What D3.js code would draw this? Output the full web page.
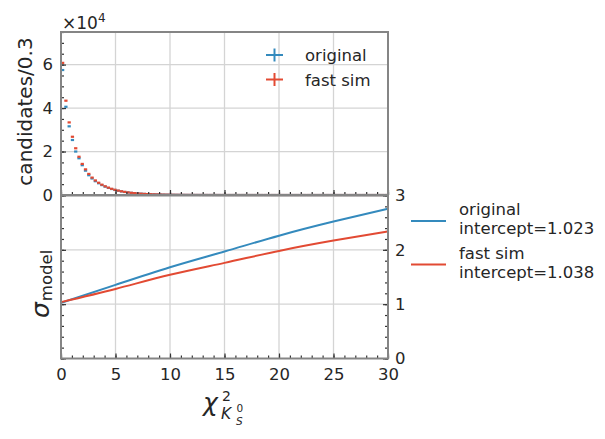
<!DOCTYPE html>
<html>
<head>
<meta charset="utf-8">
<script src="https://cdn.jsdelivr.net/npm/d3@7/dist/d3.min.js"></script>
<style>
  html, body { margin: 0; padding: 0; background: #fff; }
  svg { display: block; font-family: "DejaVu Sans", sans-serif; }
  text { fill: #262626; }
</style>
</head>
<body>
<svg id="chart" width="605" height="439"></svg>
<script>
// chi2 histogram, bin width 0.3 over [0, 30]
const binWidth = 0.3;
const binStarts = d3.range(100).map(i => +(i * binWidth).toFixed(2));

const countsOriginal = [
  57500, 40600, 31600, 25300, 20000, 16900, 13700, 11200, 9100, 7600,
  6350, 5400, 4550, 3850, 3250, 2750, 2320, 1960, 1650, 1390,
  1170, 985, 830, 700, 590, 497, 418, 352, 297, 250,
  211, 177, 149, 126, 106, 90, 76, 64, 54, 46,
  39, 33, 28, 24, 20, 17, 14, 12, 10, 9,
  8, 7, 6, 5, 4, 4, 3, 3, 2, 2,
  1, 1, 1, 1, 1, 1, 1, 0, 0, 0,
  0, 0, 0, 0, 0, 0, 0, 0, 0, 0,
  0, 0, 0, 0, 0, 0, 0, 0, 0, 0,
  0, 0, 0, 0, 0, 0, 0, 0, 0, 0
];
const countsFastSim = [
  60800, 43400, 33400, 26800, 21500, 17600, 14300, 11800, 9700, 8000,
  6700, 5650, 4750, 4000, 3380, 2850, 2400, 2020, 1700, 1430,
  1200, 1010, 850, 715, 600, 505, 425, 358, 300, 252,
  212, 178, 150, 126, 106, 89, 75, 63, 53, 45,
  38, 32, 27, 23, 19, 16, 14, 12, 10, 8,
  7, 6, 5, 4, 4, 3, 3, 2, 2, 2,
  1, 1, 1, 1, 1, 1, 1, 1, 0, 0,
  0, 0, 0, 0, 0, 0, 0, 0, 0, 0,
  0, 0, 0, 0, 0, 0, 0, 0, 0, 0,
  0, 0, 0, 0, 0, 0, 0, 0, 0, 0
];

// sigma model as a function of chi2
const sigmaX = [0, 5, 10, 15, 20, 25, 30];
const sigmaOriginal = [1.023, 1.355, 1.68, 1.97, 2.26, 2.52, 2.755];
const sigmaFastSim = [1.038, 1.28, 1.54, 1.76, 1.98, 2.17, 2.34];

const seriesNames = ["original", "fast sim"];
const interceptLabels = ["intercept=1.023", "intercept=1.038"];
const colors = ["#348ABD", "#E24A33"];

const xTicks = [0, 5, 10, 15, 20, 25, 30];
const topYTicks = [0, 20000, 40000, 60000];
const botYTicks = [0, 1, 2, 3];

const svg = d3.select("#chart");
const L = 61, R = 388, T1 = 32, B1 = 195, T2 = 195.5, B2 = 358.5;

const x = d3.scaleLinear().domain([0, 30]).range([L, R]);
const yTop = d3.scaleLinear().domain([0, 75000]).range([B1, T1]);
const yBot = d3.scaleLinear().domain([0, 3]).range([B2, T2]);

const gridColor = "#d4d4d4", spineColor = "#858585", tickColor = "#333";
const tickFont = 16.5;

function grid(g, xs, ys, yScale, y0, y1) {
  g.selectAll(".gx").data(xs).join("line")
    .attr("x1", d => x(d)).attr("x2", d => x(d))
    .attr("y1", y0).attr("y2", y1)
    .attr("stroke", gridColor).attr("stroke-width", 1.3);
  g.selectAll(".gy").data(ys).join("line")
    .attr("x1", L).attr("x2", R)
    .attr("y1", d => yScale(d)).attr("y2", d => yScale(d))
    .attr("stroke", gridColor).attr("stroke-width", 1.3);
}

function styleAxis(g) {
  g.select(".domain").remove();
  g.selectAll(".tick line").attr("stroke", tickColor).attr("stroke-width", 1.2);
  g.selectAll(".tick text").attr("font-size", tickFont).attr("fill", "#262626")
    .attr("font-family", "DejaVu Sans");
}

// ---------- upper panel: histogram ----------
const upper = svg.append("g");
grid(upper.append("g"), xTicks.slice(1, -1), topYTicks.slice(1), yTop, T1, B1);

// histogram points: bin-width horizontal bar with sqrt(N) error bar
[countsOriginal, countsFastSim].forEach((counts, si) => {
  const g = upper.append("g");
  const data = counts.map((c, i) => ({ x0: binStarts[i], c }));
  g.selectAll(".h").data(data).join("line")
    .attr("x1", d => x(d.x0)).attr("x2", d => x(d.x0 + binWidth))
    .attr("y1", d => yTop(d.c)).attr("y2", d => yTop(d.c))
    .attr("stroke", colors[si]).attr("stroke-width", 2.2);
  g.selectAll(".v").data(data).join("line")
    .attr("x1", d => x(d.x0 + binWidth / 2)).attr("x2", d => x(d.x0 + binWidth / 2))
    .attr("y1", d => yTop(d.c + Math.sqrt(d.c))).attr("y2", d => yTop(d.c - Math.sqrt(d.c)))
    .attr("stroke", colors[si]).attr("stroke-width", 1.5);
});

// axes with inward ticks
const upLeftMinor = upper.append("g").attr("transform", `translate(${L},0)`)
  .call(d3.axisLeft(yTop).tickValues(d3.range(0, 75001, 5000)).tickSize(-3).tickFormat(""));
styleAxis(upLeftMinor);
const upLeft = upper.append("g").attr("transform", `translate(${L},0)`)
  .call(d3.axisLeft(yTop).tickValues(topYTicks).tickSize(-5).tickPadding(8)
    .tickFormat(d => d / 10000));
styleAxis(upLeft);
const upBottomMinor = upper.append("g").attr("transform", `translate(0,${B1})`)
  .call(d3.axisBottom(x).tickValues(d3.range(0, 31, 1)).tickSize(-3).tickFormat(""));
styleAxis(upBottomMinor);
const upBottom = upper.append("g").attr("transform", `translate(0,${B1})`)
  .call(d3.axisBottom(x).tickValues(xTicks).tickSize(-5).tickFormat(""));
styleAxis(upBottom);

upper.append("rect").attr("x", L).attr("y", T1).attr("width", R - L).attr("height", B1 - T1)
  .attr("fill", "none").attr("stroke", spineColor).attr("stroke-width", 2);

// offset label
const off = upper.append("text").attr("x", 62).attr("y", 28.5).attr("font-size", 17);
off.append("tspan").text("×10");
off.append("tspan").attr("font-size", 12).attr("dy", -7).text("4");

upper.append("text")
  .attr("transform", `translate(31.5,${(T1 + B1) / 2 - 2}) rotate(-90)`)
  .attr("text-anchor", "middle").attr("font-size", 20)
  .text("candidates/0.3");

// legend with error-bar crosses
seriesNames.forEach((name, i) => {
  const cy = 55 + i * 24.5, cx = 274.5;
  upper.append("line").attr("x1", cx - 8.5).attr("x2", cx + 8.5).attr("y1", cy).attr("y2", cy)
    .attr("stroke", colors[i]).attr("stroke-width", 2);
  upper.append("line").attr("x1", cx).attr("x2", cx).attr("y1", cy - 6.5).attr("y2", cy + 6.5)
    .attr("stroke", colors[i]).attr("stroke-width", 2);
  upper.append("text").attr("x", 305).attr("y", cy + 6).attr("font-size", tickFont).text(name);
});

// ---------- lower panel: sigma model ----------
const lower = svg.append("g");
grid(lower.append("g"), xTicks.slice(1, -1), botYTicks.slice(1, -1), yBot, T2, B2);

const line = d3.line().x(d => x(d[0])).y(d => yBot(d[1])).curve(d3.curveNatural);
[sigmaOriginal, sigmaFastSim].forEach((vals, i) => {
  lower.append("path").datum(sigmaX.map((v, k) => [v, vals[k]]))
    .attr("d", line).attr("fill", "none")
    .attr("stroke", colors[i]).attr("stroke-width", 2);
});

const loLeftMinor = lower.append("g").attr("transform", `translate(${L},0)`)
  .call(d3.axisLeft(yBot).tickValues(d3.range(0, 3.01, 0.2)).tickSize(-3).tickFormat(""));
styleAxis(loLeftMinor);
const loLeft = lower.append("g").attr("transform", `translate(${L},0)`)
  .call(d3.axisLeft(yBot).tickValues(botYTicks).tickSize(-5).tickFormat(""));
styleAxis(loLeft);
const loRightMinor = lower.append("g").attr("transform", `translate(${R},0)`)
  .call(d3.axisRight(yBot).tickValues(d3.range(0, 3.01, 0.2)).tickSize(-3).tickFormat(""));
styleAxis(loRightMinor);
const loRight = lower.append("g").attr("transform", `translate(${R},0)`)
  .call(d3.axisRight(yBot).tickValues(botYTicks).tickSize(-5).tickPadding(7).tickFormat(d3.format("d")));
styleAxis(loRight);
const loBottomMinor = lower.append("g").attr("transform", `translate(0,${B2})`)
  .call(d3.axisBottom(x).tickValues(d3.range(0, 31, 1)).tickSize(-3).tickFormat(""));
styleAxis(loBottomMinor);
const loBottom = lower.append("g").attr("transform", `translate(0,${B2})`)
  .call(d3.axisBottom(x).tickValues(xTicks).tickSize(-5).tickPadding(10).tickFormat(d3.format("d")));
styleAxis(loBottom);

lower.append("rect").attr("x", L).attr("y", T2).attr("width", R - L).attr("height", B2 - T2)
  .attr("fill", "none").attr("stroke", spineColor).attr("stroke-width", 2);

// sigma_model label
const sl = lower.append("text").attr("transform", "translate(48.5,318) rotate(-90)");
sl.append("tspan").attr("font-size", 25).attr("font-style", "italic").text("σ");
sl.append("tspan").attr("font-size", 16.5).attr("dx", 1).attr("dy", 3.5).text("model");

// chi2 label: chi^2 with K_S^0 subscript, as one text element
const xl = lower.append("text").attr("x", 203).attr("y", 411);
xl.append("tspan").attr("font-size", 25).attr("font-style", "italic").text("χ");
xl.append("tspan").attr("x", 222).attr("y", 400.5).attr("font-size", 14).text("2");
xl.append("tspan").attr("x", 221).attr("y", 419).attr("font-size", 15.5)
  .attr("font-style", "italic").text("K");
xl.append("tspan").attr("x", 236.5).attr("y", 411.5).attr("font-size", 10.5).text("0");
xl.append("tspan").attr("x", 236).attr("y", 425).attr("font-size", 10.5)
  .attr("font-style", "italic").text("S");

// fit legend
seriesNames.forEach((name, i) => {
  const ly = 221 + i * 43.5;
  lower.append("line").attr("x1", 411).attr("x2", 446).attr("y1", ly).attr("y2", ly)
    .attr("stroke", colors[i]).attr("stroke-width", 2);
  const t = lower.append("text").attr("x", 459).attr("y", ly - 6).attr("font-size", tickFont);
  t.append("tspan").attr("x", 459).text(name);
  t.append("tspan").attr("x", 459).attr("dy", 19).text(interceptLabels[i]);
});
</script>
</body>
</html>
